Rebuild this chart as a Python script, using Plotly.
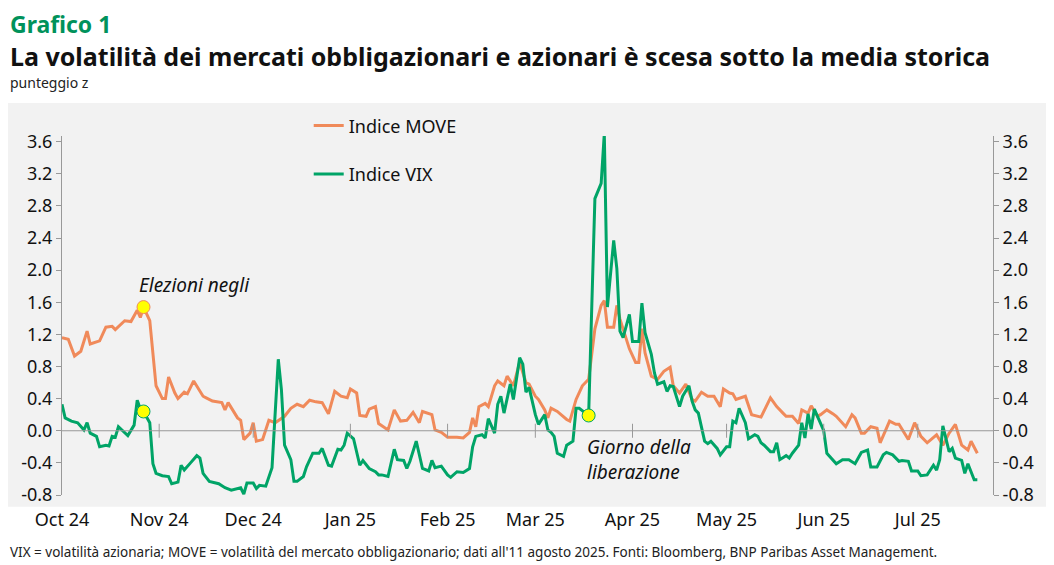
import pandas as pd
import plotly.graph_objects as go

# giorni dal 1 ottobre 2024
move_days = [0, 2, 4, 6, 8, 9, 12, 14, 16, 17, 20, 22, 24, 25, 26, 28, 30, 32, 33, 34, 36, 37, 39, 40, 42, 45, 46, 48, 51, 52,
             53, 56, 57, 58, 60, 61, 62, 64, 66, 68, 71, 73, 75, 77, 79, 81, 83, 85, 87, 89, 91, 92, 94, 95, 97, 98, 100, 101,
             104, 106, 108, 110, 112, 114, 115, 118, 119, 121, 123, 126, 128, 130, 131, 132, 133, 135, 136, 138, 139,
             141, 142, 144, 146, 148, 149, 151, 152, 154, 155, 156, 158, 161, 162, 164, 166, 168, 170, 172, 173, 174, 176,
             177, 178, 180, 181, 183, 184, 185, 186, 188, 190, 192, 194, 195, 197, 199, 201, 202, 204, 206, 208, 210, 211,
             213, 214, 215, 218, 220, 223, 226, 228, 230, 231, 233, 235, 236, 238, 239, 241, 242, 244, 246, 247, 250, 252,
             253, 255, 256, 258, 260, 261, 264, 266, 267, 270, 272, 274, 276, 279, 281, 283, 285, 287, 289, 290, 292]
move_vals = [1.16, 1.14, 0.93, 0.99, 1.24, 1.08, 1.12, 1.29, 1.30, 1.26, 1.37, 1.36, 1.50, 1.41, 1.54, 1.37, 0.56, 0.40, 0.40,
             0.67, 0.47, 0.40, 0.48, 0.46, 0.62, 0.43, 0.41, 0.37, 0.35, 0.26, 0.35, 0.16, 0.13, -0.11, -0.03, 0.10, -0.13,
             -0.11, 0.13, 0.10, 0.18, 0.28, 0.33, 0.30, 0.38, 0.36, 0.35, 0.21, 0.49, 0.43, 0.41, 0.52, 0.47, 0.19, 0.18,
             0.27, 0.30, 0.09, 0.01, 0.26, 0.12, 0.13, 0.23, 0.10, 0.24, 0.20, 0.01, -0.02, -0.08, -0.08, -0.09, -0.02,
             0.16, 0.05, 0.30, 0.34, 0.30, 0.56, 0.62,
             0.56, 0.68, 0.56, 0.85, 0.60, 0.58, 0.43, 0.39, 0.26, 0.16, 0.28, 0.24, 0.14, 0.12, 0.39, 0.56, 0.64, 1.27,
             1.56, 1.62, 1.29, 1.29, 1.56, 1.39, 1.14, 1.02, 0.85, 0.85, 1.27, 0.97, 0.68, 0.64, 0.74, 0.79, 0.56, 0.47,
             0.58, 0.39, 0.37, 0.48, 0.43, 0.43, 0.30, 0.52, 0.47, 0.46, 0.39, 0.43, 0.20, 0.17, 0.41, 0.30, 0.22, 0.18,
             0.18, 0.09, 0.26, 0.22, 0.31, 0.18, 0.20, 0.26, 0.21, 0.18, 0.05, 0.20, 0.16, -0.03, -0.03, 0.05, 0.03,
             -0.15, 0.12, 0.08, 0.08, -0.11, 0.10, -0.07, -0.15, -0.05, -0.18, -0.03, 0.08, -0.18, -0.24, -0.13, -0.28]

vix_days = [0, 1, 3, 5, 7, 8, 9, 11, 12, 14, 15, 16, 17, 18, 21, 23, 24, 25, 26, 28, 29, 30, 32, 34, 35, 37, 38, 39, 41, 43,
            44, 45, 47, 50, 52, 54, 57, 58, 59, 61, 62, 63, 65, 66, 67, 69, 70, 71, 73, 74, 75, 77, 78, 80, 82, 83, 85, 86,
            88, 89, 90, 91, 93, 95, 96, 98, 100, 101, 102, 104, 106, 107, 109, 110, 111, 113, 114, 115, 117, 118, 119, 121,
            123, 124, 126, 128, 130, 131, 132, 134, 135, 136, 138, 139,
            140, 141, 143, 144, 146, 147, 148, 149, 151, 152, 154, 155, 156, 157, 158, 160, 161, 163, 164, 165, 167, 168,
            170, 172, 173, 174, 176, 177, 178, 179, 181, 182, 184, 185, 186, 188, 189, 190, 192, 193, 194, 195, 197, 198,
            200, 201, 202, 203, 205, 206, 207, 209, 210, 212, 213, 214, 215, 216, 218, 219, 221, 222, 223, 224, 226, 227,
            228, 229, 231, 232, 233, 235, 236, 237, 238, 239, 240, 242, 243, 244, 246, 247, 249, 251, 253, 255, 257, 258,
            260, 262, 263, 265, 267, 268, 270, 271, 273, 274, 276, 278, 279, 280, 281, 283, 284, 285, 287, 288, 289, 291,
            292, 293]
vix_vals = [0.33, 0.16, 0.12, 0.10, 0.01, 0.10, -0.03, -0.07, -0.20, -0.18, -0.19, -0.07, -0.08, 0.05, -0.06, 0.07, 0.38,
            0.27, 0.24, 0.10, -0.41, -0.53, -0.56, -0.57, -0.66, -0.64, -0.43, -0.49, -0.40, -0.31, -0.34, -0.53, -0.63,
            -0.66, -0.71, -0.74, -0.71, -0.79, -0.65, -0.65, -0.72, -0.68, -0.69, -0.57, -0.46, 0.89, 0.51, -0.18, -0.36,
            -0.63, -0.63, -0.57, -0.45, -0.28, -0.28, -0.22, -0.43, -0.44, -0.23, -0.24, -0.18, -0.03, -0.10, -0.43, -0.37,
            -0.47, -0.51, -0.55, -0.55, -0.57, -0.23, -0.36, -0.37, -0.47, -0.38, -0.13, -0.32, -0.47, -0.50, -0.37, -0.46,
            -0.44, -0.55, -0.58, -0.51, -0.52, -0.47, -0.20, -0.07, -0.05, -0.09, 0.15, -0.03, 0.33,
            0.43, 0.22, 0.58, 0.39, 0.91, 0.83, 0.48, 0.54, 0.20, 0.08, 0.20, 0.01, -0.02, -0.07, -0.28, -0.32, -0.18,
            -0.13, 0.28, 0.28, 0.22, 0.19, 2.89, 3.08, 3.70, 1.54, 2.37, 2.02, 1.24, 1.16, 1.45, 1.11, 1.11, 1.59, 1.22,
            0.95, 0.72, 0.58, 0.61, 0.49, 0.56, 0.55, 0.30, 0.43, 0.56, 0.37, 0.26, 0.22, -0.13, -0.16, -0.13, -0.22,
            -0.30, -0.20, -0.20, 0.12, 0.10, 0.28, 0.10, -0.10, -0.05, -0.07, -0.15, -0.18, -0.26, -0.26, -0.15, -0.36,
            -0.31, -0.34, -0.28, -0.18, 0.10, -0.09, 0.21, 0.02, 0.27, 0.09, 0.00, -0.28, -0.36, -0.41, -0.36, -0.36,
            -0.41, -0.27, -0.24, -0.45, -0.45, -0.30, -0.27, -0.30, -0.38, -0.37, -0.38, -0.50, -0.50, -0.56, -0.55,
            -0.43, -0.49, -0.36, 0.06, -0.26, -0.22, -0.34, -0.37, -0.53, -0.41, -0.61, -0.61]

month_ticks = ["2024-10-01", "2024-11-01", "2024-12-01", "2025-01-01", "2025-02-01", "2025-03-01",
               "2025-04-01", "2025-05-01", "2025-06-01", "2025-07-01"]
month_labels = ["Oct 24", "Nov 24", "Dec 24", "Jan 25", "Feb 25", "Mar 25", "Apr 25", "May 25", "Jun 25", "Jul 25"]
y_ticks = [-0.8, -0.4, 0.0, 0.4, 0.8, 1.2, 1.6, 2.0, 2.4, 2.8, 3.2, 3.6]

# eventi evidenziati
event_days_move = [26]
event_days_vix = [26, 168]

start = pd.Timestamp("2024-10-01")
to_date = lambda d: [start + pd.Timedelta(days=x) for x in d]
move_x = to_date(move_days)
vix_x = to_date(vix_days)

ORANGE = "#f08a5a"
GREEN = "#00a467"
FONT = "Noto Sans"

fig = go.Figure()
fig.add_trace(go.Scatter(x=move_x, y=move_vals, mode="lines", name="Indice MOVE",
                         line=dict(color=ORANGE, width=3), legendgroup="a"))
fig.add_trace(go.Scatter(x=vix_x, y=vix_vals, mode="lines", name="Indice VIX",
                         line=dict(color=GREEN, width=3), legendgroup="b"))

mx = [move_x[move_days.index(d)] for d in event_days_move] + [vix_x[vix_days.index(d)] for d in event_days_vix]
my = [move_vals[move_days.index(d)] for d in event_days_move] + [vix_vals[vix_days.index(d)] for d in event_days_vix]
mcol = [ORANGE] + [GREEN] * len(event_days_vix)
fig.add_trace(go.Scatter(x=mx, y=my, mode="markers", showlegend=False,
                         marker=dict(color="#ffff00", size=13, line=dict(color=mcol, width=1))))
# asse destro
fig.add_trace(go.Scatter(x=[move_x[0]], y=[move_vals[0]], yaxis="y2", mode="lines",
                         showlegend=False, opacity=0, hoverinfo="skip"))

# tacche dei mesi sulla linea dello zero
fig.add_trace(go.Scatter(x=month_ticks[1:], y=[0] * (len(month_ticks) - 1), mode="markers", showlegend=False,
                         hoverinfo="skip", marker=dict(symbol="line-ns", size=10, line=dict(color="#999", width=1))))

fig.add_annotation(x=move_x[move_days.index(26)] - pd.Timedelta(days=2), y=1.82, text="<i>Elezioni negli</i>",
                   showarrow=False, xanchor="left", font=dict(size=19, color="#111"))
fig.add_annotation(x=vix_x[vix_days.index(168)] - pd.Timedelta(days=1), y=-0.02, text="<i>Giorno della<br>liberazione</i>",
                   showarrow=False, xanchor="left", yanchor="top", align="left", font=dict(size=19, color="#111"))

yaxis_common = dict(range=[-0.8, 3.67], tickvals=y_ticks, ticktext=[f"{v:.1f}" for v in y_ticks],
                    showgrid=False, zeroline=False, showline=True, linecolor="#999", ticks="outside",
                    ticklen=5, tickcolor="#999", tickfont=dict(size=18, color="#111"))

fig.add_shape(type="rect", xref="paper", yref="paper", x0=-0.058, x1=1.066, y0=-0.033, y1=1.092,
              fillcolor="#f2f2f2", line_width=0, layer="below")
fig.add_shape(type="line", xref="paper", yref="y", x0=0, x1=1, y0=0, y1=0, line=dict(color="#999", width=1))

fig.update_layout(
    width=1046, height=557,
    margin=dict(l=54, r=61, t=128, b=70),
    paper_bgcolor="white", plot_bgcolor="rgba(0,0,0,0)",
    font=dict(family=FONT, color="#111"),
    xaxis=dict(range=[start, start + pd.Timedelta(days=297)], tickvals=month_ticks, ticktext=month_labels,
               showgrid=False, zeroline=False, showline=False, ticks="", ticklabelstandoff=12,
               tickfont=dict(size=18, color="#111")),
    yaxis=yaxis_common,
    yaxis2=dict(overlaying="y", side="right", **yaxis_common),
    legend=dict(x=0.265, y=1.08, xanchor="left", yanchor="top", bgcolor="rgba(0,0,0,0)",
                font=dict(size=18, color="#111"), tracegroupgap=22),
    showlegend=True,
)

fig.add_annotation(xref="paper", yref="paper", x=-0.058, y=1.313, xanchor="left", yanchor="middle", showarrow=False,
                   text="<b>Grafico 1</b>", font=dict(size=23, color="#00925b"))
fig.add_annotation(xref="paper", yref="paper", x=-0.058, y=1.224, xanchor="left", yanchor="middle", showarrow=False,
                   text="<b>La volatilità dei mercati obbligazionari e azionari è scesa sotto la media storica</b>",
                   font=dict(size=25, color="#111"))
fig.add_annotation(xref="paper", yref="paper", x=-0.058, y=1.15, xanchor="left", yanchor="middle", showarrow=False,
                   text="punteggio z", font=dict(size=14, color="#222"))
fig.add_annotation(xref="paper", yref="paper", x=-0.058, y=-0.159, xanchor="left", yanchor="middle", showarrow=False,
                   text="VIX = volatilità azionaria; MOVE = volatilità del mercato obbligazionario; dati all'11 agosto 2025. "
                        "Fonti: Bloomberg, BNP Paribas Asset Management.",
                   font=dict(size=13.5, color="#222"))

fig.write_html("out.html")
